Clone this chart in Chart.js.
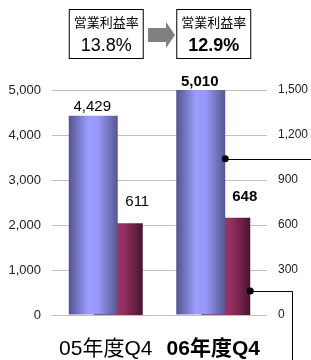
<!DOCTYPE html>
<html>
<head>
<meta charset="utf-8">
<script src="https://cdn.jsdelivr.net/npm/chart.js@4/dist/chart.umd.min.js"></script>
<style>
  html, body { margin: 0; padding: 0; background: #fff; }
  #wrap { width: 311px; height: 360px; position: relative; }
</style>
</head>
<body>
<div id="wrap"><canvas id="myChart" width="311" height="360"></canvas></div>
<script>
const ctx = document.getElementById('myChart');
const FONT = "'Liberation Sans', Arial, 'Noto Sans CJK JP', sans-serif";

// data
const categories = ['05年度Q4', '06年度Q4'];
const sales = [4429, 5010];          // left axis
const operatingProfit = [611, 648];  // right axis
const leftTicks = [0, 1000, 2000, 3000, 4000, 5000];
const rightTicks = [0, 300, 600, 900, 1200, 1500];
const marginLabel = '営業利益率';
const margins = ['13.8%', '12.9%'];

const fmt = v => v.toLocaleString('en-US');

function barGradient(c, stops, fallback) {
    const el = c.element;
    if (!el || el.x === undefined || !el.width) return fallback;
    const x0 = el.x - el.width / 2, x1 = el.x + el.width / 2;
    const g = c.chart.ctx.createLinearGradient(x0, 0, x1, 0);
    stops.forEach(s => g.addColorStop(s[0], s[1]));
    return g;
}

const blueStops = [[0, '#54548e'], [0.4, '#9c9cff'], [0.6, '#9898fa'], [1, '#565690']];
const redStops = [[0, '#4e1634'], [0.45, '#983262'], [0.6, '#953060'], [1, '#4a1430']];

const extras = {
    id: 'extras',
    afterDatasetsDraw(chart) {
        const c = chart.ctx;
        const m0 = chart.getDatasetMeta(0).data;
        const m1 = chart.getDatasetMeta(1).data;
        c.save();
        c.fillStyle = '#000';
        c.textAlign = 'center';
        c.textBaseline = 'alphabetic';
        // value labels
        m0.forEach((b, i) => {
            c.font = (i === 1 ? 'bold ' : '') + '15px ' + FONT;
            c.fillText(fmt(sales[i]), b.x - 1, b.y - (i === 1 ? 4 : 5));
        });
        m1.forEach((b, i) => {
            c.font = (i === 1 ? 'bold ' : '') + '15px ' + FONT;
            c.fillText(fmt(operatingProfit[i]), b.x + 19, b.y - 17);
        });
        // margin boxes
        [0, 1].forEach(i => {
            const left = m0[i].x - m0[i].width / 2;
            const right = m1[i].x + m1[i].width / 2;
            c.fillStyle = '#fff';
            c.fillRect(left + 0.5, 9.5, right - left, 49);
            c.strokeStyle = '#000';
            c.lineWidth = 1;
            c.strokeRect(left + 0.5, 9.5, right - left, 49);
            c.fillStyle = '#000';
            c.font = '13px ' + FONT;
            c.fillText(marginLabel, (left + right) / 2 + 0.5, 27);
            c.font = (i === 1 ? 'bold ' : '') + '18px ' + FONT;
            c.fillText(margins[i], (left + right) / 2 + 0.5, 51);
        });
        // arrow
        c.fillStyle = '#808080';
        c.beginPath();
        c.moveTo(148, 28); c.lineTo(166, 28); c.lineTo(166, 22); c.lineTo(175, 35);
        c.lineTo(166, 48); c.lineTo(166, 42); c.lineTo(148, 42); c.closePath();
        c.fill();
        // callouts
        const y0 = chart.scales.y, y1 = chart.scales.y1;
        const p1x = m0[1].x + m0[1].width / 2, p1y = y0.getPixelForValue(3470);
        const p2x = m1[1].x + m1[1].width / 2, p2y = y1.getPixelForValue(160);
        c.strokeStyle = '#000';
        c.lineWidth = 1;
        c.beginPath();
        c.moveTo(p1x, Math.round(p1y) + 0.5); c.lineTo(311, Math.round(p1y) + 0.5);
        c.moveTo(p2x, Math.round(p2y) + 0.5); c.lineTo(292.5, Math.round(p2y) + 0.5); c.lineTo(292.5, 360);
        c.stroke();
        c.fillStyle = '#000';
        [[p1x, p1y], [p2x, p2y]].forEach(p => {
            c.beginPath(); c.arc(p[0], p[1], 3.5, 0, Math.PI * 2); c.fill();
        });
        c.restore();
    }
};

const chart = new Chart(ctx, {
    type: 'bar',
    data: {
        labels: categories,
        datasets: [{
            label: '売上高',
            data: sales,
            yAxisID: 'y',
            backgroundColor: c => barGradient(c, blueStops, '#8888ee'),
            categoryPercentage: 0.465,
            barPercentage: 1.96
        }, {
            label: '営業利益',
            data: operatingProfit,
            yAxisID: 'y1',
            backgroundColor: c => barGradient(c, redStops, '#883060'),
            categoryPercentage: 0.465,
            barPercentage: 1.96
        }]
    },
    options: {
        responsive: false,
        animation: false,
        events: [],
        layout: { padding: { top: 90, left: 0, right: 0, bottom: 0 } },
        plugins: { legend: { display: false }, tooltip: { enabled: false } },
        scales: {
            x: {
                grid: { display: false, drawTicks: false },
                border: { display: false },
                ticks: {
                    color: '#000',
                    padding: 22,
                    font: c => ({ family: FONT, size: 21, weight: c.index === 1 ? 'bold' : 'normal' })
                },
                afterFit: s => { s.height = 45; }
            },
            y: {
                position: 'left',
                min: 0, max: 5000,
                afterBuildTicks: s => { s.ticks = leftTicks.map(v => ({ value: v })); },
                grid: { color: '#c0c0c0', drawTicks: false },
                border: { display: false },
                ticks: { color: '#222', padding: 11, font: { family: FONT, size: 13 }, callback: v => fmt(v) },
                afterFit: s => { s.width = 52; }
            },
            y1: {
                position: 'right',
                min: 0, max: 1500,
                afterBuildTicks: s => { s.ticks = rightTicks.map(v => ({ value: v })); },
                grid: { display: false, drawTicks: false },
                border: { display: false },
                ticks: { color: '#222', padding: 11, font: { family: FONT, size: 12 }, callback: v => fmt(v) },
                afterFit: s => { s.width = 44; }
            }
        }
    },
    plugins: [extras]
});
chart.update('none');
</script>
</body>
</html>
